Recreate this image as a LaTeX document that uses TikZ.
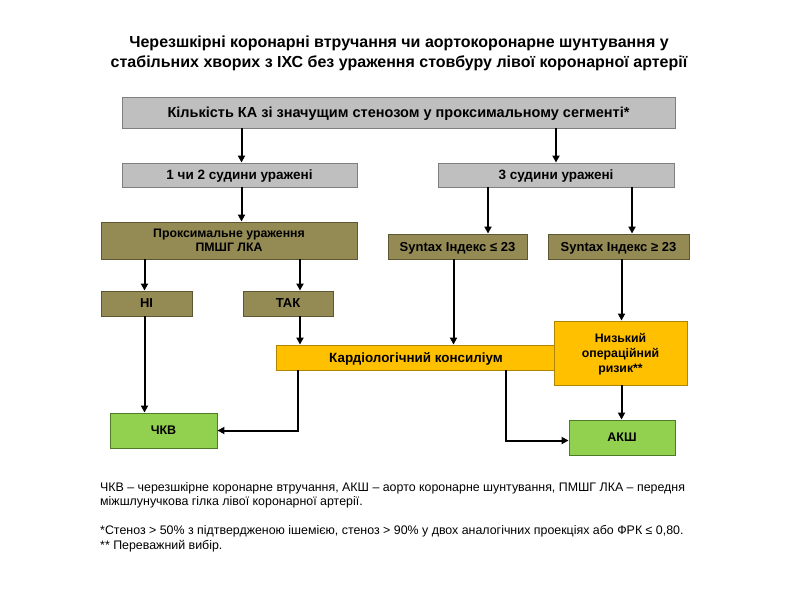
\documentclass[tikz,border=0pt]{standalone}
\usepackage{fontspec}
\setmainfont{Liberation Sans}
\usepackage{xcolor}
\usetikzlibrary{arrows.meta, calc}

\definecolor{greyfill}{HTML}{BFBFBF}
\definecolor{greyline}{HTML}{7F7F7F}
\definecolor{olivefill}{HTML}{948A54}
\definecolor{oliveline}{HTML}{5E5733}
\definecolor{orangefill}{HTML}{FFC000}
\definecolor{orangeline}{HTML}{B08600}
\definecolor{greenfill}{HTML}{92D050}
\definecolor{greenline}{HTML}{4F7A28}

\begin{document}
\begin{tikzpicture}[
        x=1pt, y=-1pt,
        greybox/.style={rectangle, draw=greyline, fill=greyfill, line width=0.9pt, inner sep=0pt, text depth=0pt, align=center, font=\fontsize{13.5}{16}\selectfont\bfseries},
        olivebox/.style={rectangle, draw=oliveline, fill=olivefill, line width=0.9pt, inner sep=0pt, text depth=0pt, align=center, font=\fontsize{13}{15}\selectfont\bfseries},
        orangebox/.style={rectangle, draw=orangeline, fill=orangefill, line width=0.9pt, inner sep=0pt, text depth=0pt, align=center, font=\fontsize{13.4}{16}\selectfont\bfseries},
        greenbox/.style={rectangle, draw=greenline, fill=greenfill, line width=0.9pt, inner sep=0pt, text depth=0pt, align=center, font=\fontsize{12.5}{15}\selectfont\bfseries},
        arr/.style={-{Triangle[length=7pt, width=7pt]}, line width=2pt}
    ]
    \useasboundingbox (0,0) rectangle (800,600);

    % Title
    \node[align=center, font=\fontsize{16}{20}\selectfont\bfseries] (title) at (399,53)
        {Черезшкірні коронарні втручання чи аортокоронарне шунтування у\\
         стабільних хворих з ІХС без ураження стовбуру лівої коронарної артерії};

    % Boxes
    \node[greybox, minimum width=553, minimum height=31, font=\fontsize{14.5}{17}\selectfont\bfseries] (top) at (398.5,112.5) {Кількість КА зі значущим стенозом у проксимальному сегменті*};
    \node[greybox, minimum width=235, minimum height=24] (n12) at (239.5,175) {1 чи 2 судини уражені};
    \node[greybox, minimum width=236, minimum height=24] (n3) at (556,175) {3 судини уражені};

    \node[olivebox, minimum width=256, minimum height=37, font=\fontsize{12.3}{14.5}\selectfont\bfseries] (prox) at (229,240.5) {Проксимальне ураження\\ПМШГ ЛКА};
    \node[olivebox, minimum width=139, minimum height=25] (sle) at (457.5,246.5) {Syntax Індекс ≤ 23};
    \node[olivebox, minimum width=141, minimum height=25] (sge) at (618.5,246.5) {Syntax Індекс ≥ 23};
    \node[olivebox, minimum width=91, minimum height=25] (ni) at (146.5,303.5) {НІ};
    \node[olivebox, minimum width=90, minimum height=25] (tak) at (288,303.5) {ТАК};

    \node[orangebox, minimum width=280, minimum height=25] (cons) at (416,357.5) {Кардіологічний консиліум};
    \node[orangebox, minimum width=133, minimum height=64, font=\fontsize{12.3}{15}\selectfont\bfseries] (low) at (620.5,353) {Низький\\операційний\\ризик**};

    \node[greenbox, minimum width=107, minimum height=35] (chkv) at (163.5,430.5) {ЧКВ};
    \node[greenbox, minimum width=106, minimum height=35] (aksh) at (622,437.5) {АКШ};

    % Connectors
    \draw[arr] ([xshift=2pt]n12.north |- top.south) -- ([xshift=2pt]n12.north);
    \draw[arr] (n3.north |- top.south) -- (n3.north);
    \draw[arr] ([xshift=2pt]n12.south) -- ([xshift=2pt]n12.south |- prox.north);
    \draw[arr] ([xshift=-68pt]n3.south) -- ([xshift=-68pt]n3.south |- sle.north);
    \draw[arr] ([xshift=76pt]n3.south) -- ([xshift=76pt]n3.south |- sge.north);
    \draw[arr] ([xshift=-2pt]ni.north |- prox.south) -- ([xshift=-2pt]ni.north);
    \draw[arr] ([xshift=12pt]tak.north |- prox.south) -- ([xshift=12pt]tak.north);
    \draw[arr] ([xshift=12pt]tak.south) -- ([xshift=12pt]tak.south |- cons.north);
    \draw[arr] ([xshift=-4pt]sle.south) -- ([xshift=-4pt]sle.south |- cons.north);
    \draw[arr] ([xshift=3pt]sge.south) -- ([xshift=3pt]sge.south |- low.north);
    \draw[arr] ([xshift=1pt]low.south) -- ([xshift=1pt]low.south |- aksh.north);
    \draw[arr] ([xshift=-2pt]ni.south) -- ([xshift=-2pt]ni.south |- chkv.north);
    \draw[arr] ([xshift=-118pt]cons.south) |- (chkv.east);
    \draw[arr] ([xshift=90pt]cons.south) |- ([yshift=-3pt]aksh.west);

    % Footnotes
    \node[anchor=north west, align=left, inner sep=0pt, font=\fontsize{12.4}{14.5}\selectfont] (notes) at (100,482)
        {ЧКВ – черезшкірне коронарне втручання, АКШ – аорто коронарне шунтування, ПМШГ ЛКА – передня\\
         міжшлунучкова гілка лівої коронарної артерії.\\[14.5pt]
         *Стеноз > 50\% з підтвердженою ішемією, стеноз > 90\% у двох аналогічних проекціях або ФРК ≤ 0,80.\\
         ** Переважний вибір.};
\end{tikzpicture}
\end{document}
